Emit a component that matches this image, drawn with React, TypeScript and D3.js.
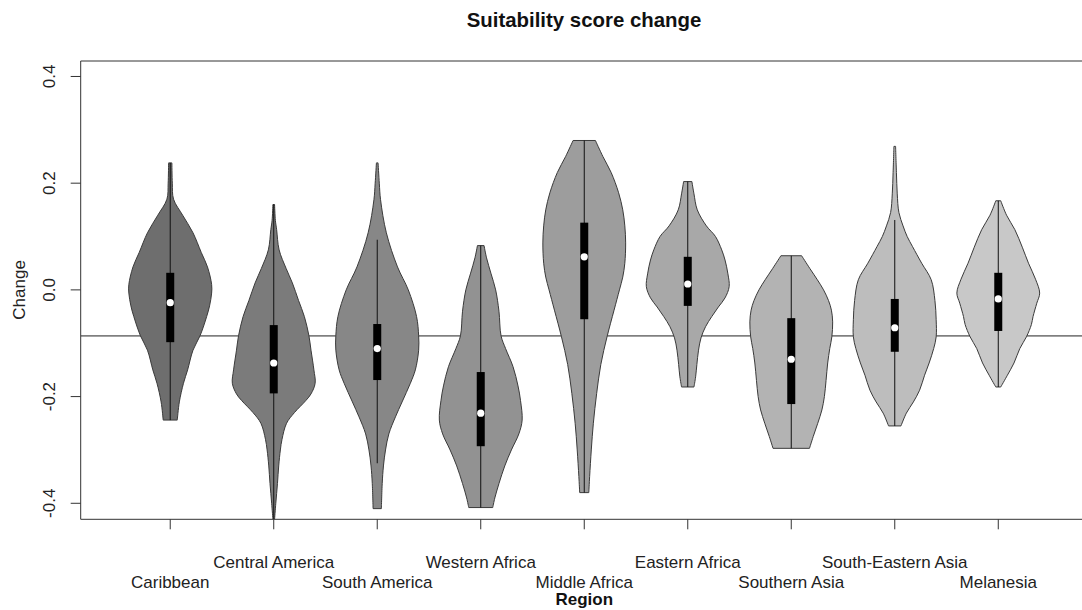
import React from "react";
import * as d3 from "d3";

const regions = [
  "Caribbean", "Central America", "South America", "Western Africa", "Middle Africa",
  "Eastern Africa", "Southern Asia", "South-Eastern Asia", "Melanesia",
];

const fills = ["#6e6e6e", "#7b7b7b", "#878787", "#929292", "#9d9d9d", "#a8a8a8", "#b3b3b3", "#bdbdbd", "#c8c8c8"];

// violin profiles: [value, relative half-width]
const caribbean: [number, number][] = [
  [0.238, 0.04], [0.2, 0.05], [0.17, 0.08], [0.14, 0.3], [0.107, 0.55], [0.07, 0.75], [0.043, 0.9],
  [0.01, 1.0], [-0.006, 1.0], [-0.03, 0.95], [-0.05, 0.88], [-0.086, 0.72], [-0.113, 0.55],
  [-0.15, 0.42], [-0.175, 0.32], [-0.21, 0.22], [-0.244, 0.17],
];
const centralAmerica: [number, number][] = [
  [0.16, 0.02], [0.13, 0.04], [0.113, 0.07], [0.075, 0.13], [0.04, 0.3], [0.013, 0.45], [-0.02, 0.6],
  [-0.05, 0.74], [-0.086, 0.85], [-0.113, 0.9], [-0.15, 0.97], [-0.175, 1.0], [-0.195, 0.9],
  [-0.207, 0.78], [-0.23, 0.5], [-0.25, 0.31], [-0.28, 0.2], [-0.3, 0.16], [-0.33, 0.12],
  [-0.363, 0.09], [-0.4, 0.05], [-0.43, 0.02],
];
const southAmerica: [number, number][] = [
  [0.238, 0.02], [0.2, 0.05], [0.169, 0.08], [0.107, 0.22], [0.043, 0.49], [0.0, 0.75], [-0.05, 0.95],
  [-0.086, 1.0], [-0.113, 1.0], [-0.15, 0.92], [-0.175, 0.8], [-0.21, 0.6], [-0.238, 0.44],
  [-0.27, 0.28], [-0.3, 0.2], [-0.33, 0.15], [-0.363, 0.12], [-0.41, 0.1],
];
const westernAfrica: [number, number][] = [
  [0.083, 0.08], [0.06, 0.14], [0.03, 0.25], [0.0, 0.36], [-0.04, 0.44], [-0.086, 0.49], [-0.11, 0.6],
  [-0.144, 0.78], [-0.18, 0.9], [-0.207, 0.96], [-0.244, 1.0], [-0.27, 0.92], [-0.3, 0.74],
  [-0.33, 0.58], [-0.363, 0.44], [-0.39, 0.34], [-0.408, 0.29],
];
const middleAfrica: [number, number][] = [
  [0.28, 0.27], [0.25, 0.45], [0.22, 0.65], [0.182, 0.83], [0.15, 0.93], [0.12, 0.98], [0.088, 1.0],
  [0.05, 0.98], [0.024, 0.93], [0.0, 0.85], [-0.038, 0.72], [-0.088, 0.55], [-0.14, 0.4],
  [-0.194, 0.3], [-0.25, 0.22], [-0.3, 0.17], [-0.35, 0.13], [-0.38, 0.11],
];
const easternAfrica: [number, number][] = [
  [0.203, 0.1], [0.18, 0.15], [0.15, 0.23], [0.12, 0.45], [0.1, 0.67], [0.075, 0.82], [0.056, 0.9],
  [0.03, 0.97], [0.006, 1.0], [-0.015, 0.9], [-0.032, 0.74], [-0.05, 0.58], [-0.069, 0.43],
  [-0.09, 0.32], [-0.113, 0.26], [-0.14, 0.22], [-0.163, 0.19], [-0.182, 0.15],
];
const southernAsia: [number, number][] = [
  [0.064, 0.25], [0.04, 0.45], [0.019, 0.63], [0.0, 0.78], [-0.02, 0.9], [-0.038, 0.97], [-0.06, 1.0],
  [-0.088, 0.98], [-0.11, 0.93], [-0.137, 0.88], [-0.17, 0.84], [-0.2, 0.8], [-0.225, 0.74],
  [-0.25, 0.64], [-0.275, 0.53], [-0.297, 0.44],
];
const southEasternAsia: [number, number][] = [
  [0.269, 0.02], [0.22, 0.04], [0.18, 0.06], [0.145, 0.1], [0.12, 0.2], [0.1, 0.3], [0.081, 0.43],
  [0.05, 0.65], [0.019, 0.88], [-0.02, 0.97], [-0.056, 1.0], [-0.088, 1.0], [-0.11, 0.94],
  [-0.137, 0.83], [-0.16, 0.72], [-0.188, 0.6], [-0.21, 0.45], [-0.231, 0.28], [-0.255, 0.15],
];
const melanesia: [number, number][] = [
  [0.167, 0.06], [0.14, 0.2], [0.113, 0.4], [0.08, 0.58], [0.05, 0.73], [0.02, 0.9], [-0.006, 1.0],
  [-0.025, 0.93], [-0.05, 0.84], [-0.065, 0.8], [-0.088, 0.68], [-0.11, 0.52], [-0.137, 0.38],
  [-0.16, 0.22], [-0.182, 0.06],
];
const profiles = [caribbean, centralAmerica, southAmerica, westernAfrica, middleAfrica, easternAfrica, southernAsia, southEasternAsia, melanesia];

const q1 = [-0.098, -0.194, -0.169, -0.293, -0.055, -0.03, -0.214, -0.116, -0.077];
const medians = [-0.024, -0.137, -0.11, -0.231, 0.062, 0.011, -0.13, -0.071, -0.017];
const q3 = [0.032, -0.066, -0.064, -0.154, 0.126, 0.062, -0.053, -0.017, 0.032];
const whiskerLow = [-0.244, -0.43, -0.325, -0.408, -0.38, -0.182, -0.297, -0.255, -0.182];
const whiskerHigh = [0.238, 0.16, 0.094, 0.083, 0.28, 0.203, 0.064, 0.131, 0.167];

const yTicks = [-0.4, -0.2, 0.0, 0.2, 0.4];
const refLine = -0.0863;

const W = 1082, H = 610;
const plotL = 80.7, plotR = 1087.8, plotT = 61, plotB = 519.3;
const font = "'Liberation Sans', Arial, Helvetica, sans-serif";

export default function App() {
  const x = d3.scaleLinear().domain([0.135, 9.865]).range([plotL, plotR]);
  const y = d3.scaleLinear().domain([-0.43, 0.429]).range([plotB, plotT]);
  const maxHalf = 0.4;

  return (
    <svg width={W} height={H} style={{ position: "absolute", left: 0, top: 0, background: "#fff" }}>
      <defs>
        <clipPath id="plotclip">
          <rect x={plotL} y={plotT} width={plotR - plotL} height={plotB - plotT} />
        </clipPath>
      </defs>
      <text x={584} y={27} textAnchor="middle" fontFamily={font} fontWeight="bold" fontSize={20.4} fill="#111">
        Suitability score change
      </text>
      <g clipPath="url(#plotclip)">
        <line x1={plotL} x2={plotR} y1={y(refLine)} y2={y(refLine)} stroke="#222" strokeWidth={1} />
        {profiles.map((prof, i) => {
          const c = i + 1;
          const area = d3.area<[number, number]>()
            .y((d) => y(d[0]))
            .x0((d) => x(c - d[1] * maxHalf))
            .x1((d) => x(c + d[1] * maxHalf))
            .curve(d3.curveCatmullRom.alpha(0.5));
          const bw = 4;
          return (
            <g key={regions[i]}>
              <path d={area(prof) || ""} fill={fills[i]} stroke="#3a3a3a" strokeWidth={1} />
              <line x1={x(c)} x2={x(c)} y1={y(whiskerLow[i])} y2={y(whiskerHigh[i])} stroke="#111" strokeWidth={1} />
              <rect x={x(c) - bw} width={bw * 2} y={y(q3[i])} height={y(q1[i]) - y(q3[i])} fill="#000" />
              <circle cx={x(c)} cy={y(medians[i])} r={3.6} fill="#fff" />
            </g>
          );
        })}
      </g>
      <path
        d={`M${plotR},${plotT}H${plotL}V${plotB}H${plotR}`}
        fill="none" stroke="#333" strokeWidth={1}
      />
      {yTicks.map((t) => (
        <g key={t}>
          <line x1={plotL - 10} x2={plotL} y1={y(t)} y2={y(t)} stroke="#333" />
          <text
            transform={`translate(55,${y(t)}) rotate(-90)`}
            textAnchor="middle" fontFamily={font} fontSize={17} fill="#222"
          >
            {t.toFixed(1)}
          </text>
        </g>
      ))}
      <text transform={`translate(25,${y(0)}) rotate(-90)`} textAnchor="middle" fontFamily={font} fontSize={17} fill="#222">
        Change
      </text>
      {regions.map((r, i) => (
        <g key={r}>
          <line x1={x(i + 1)} x2={x(i + 1)} y1={plotB} y2={plotB + 10} stroke="#333" />
          <text x={x(i + 1)} y={i % 2 === 0 ? 588 : 568} textAnchor="middle" fontFamily={font} fontSize={17} fill="#222">
            {r}
          </text>
        </g>
      ))}
      <text x={(plotL + plotR) / 2} y={605} textAnchor="middle" fontFamily={font} fontWeight="bold" fontSize={17} fill="#111">
        Region
      </text>
    </svg>
  );
}
